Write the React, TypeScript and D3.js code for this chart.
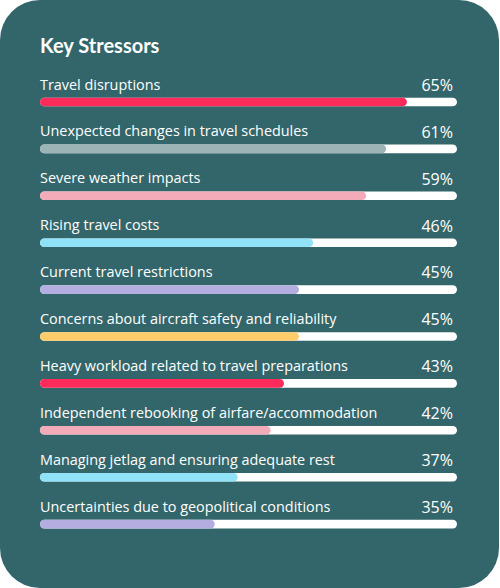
import React from "react";
import * as d3 from "d3";

const title = "Key Stressors";
const categories = [
  "Travel disruptions",
  "Unexpected changes in travel schedules",
  "Severe weather impacts",
  "Rising travel costs",
  "Current travel restrictions",
  "Concerns about aircraft safety and reliability",
  "Heavy workload related to travel preparations",
  "Independent rebooking of airfare/accommodation",
  "Managing jetlag and ensuring adequate rest",
  "Uncertainties due to geopolitical conditions",
];
const values = [65, 61, 59, 46, 45, 45, 43, 42, 37, 35];
// filled share of the track as drawn in the picture (percent of track length)
const barFill = [88, 83, 78.2, 65.5, 62.1, 62.1, 58.5, 55.3, 47.4, 41.9];
const colors = [
  "#fd2b5a",
  "#9cb4b5",
  "#f3abba",
  "#90e2f6",
  "#b3ade0",
  "#fecd6a",
  "#fd2b5a",
  "#f3abba",
  "#90e2f6",
  "#b3ade0",
];

const W = 500;
const H = 588;
const FONT = "'Open Sans', Lato, sans-serif";

export default function App() {
  const x = d3.scaleLinear().domain([0, 100]).range([40, 457]);
  const y = d3
    .scaleBand<string>()
    .domain(categories)
    .range([78.5, 78.5 + 46.9 * categories.length])
    .paddingInner(0)
    .paddingOuter(0);
  const barH = 8.6;
  return (
    <svg
      width={W}
      height={H}
      style={{ position: "absolute", left: 0, top: 0 }}
      fontFamily={FONT}
    >
      <rect x={0} y={0} width={499} height={588} rx={40} ry={40} fill="#33666a" />
      <text x={40} y={53} fill="#ffffff" fontSize={20} fontWeight={700} fontFamily="Lato, sans-serif">
        {title}
      </text>
      {categories.map((c, i) => {
        const top = y(c)!;
        const by = top + 19.2;
        return (
          <g key={c}>
            <text x={40} y={top + 11} fill="#ffffff" fontSize={14.4}>
              {c}
            </text>
            <text
              x={453}
              y={top + 12.3}
              fill="#ffffff"
              fontSize={16}
              textAnchor="end"
            >
              {values[i]}%
            </text>
            <rect
              x={x(0)}
              y={by}
              width={x(100) - x(0)}
              height={barH}
              rx={barH / 2}
              fill="#ffffff"
            />
            <rect
              x={x(0)}
              y={by}
              width={x(barFill[i]) - x(0)}
              height={barH}
              rx={barH / 2}
              fill={colors[i]}
            />
          </g>
        );
      })}
    </svg>
  );
}
